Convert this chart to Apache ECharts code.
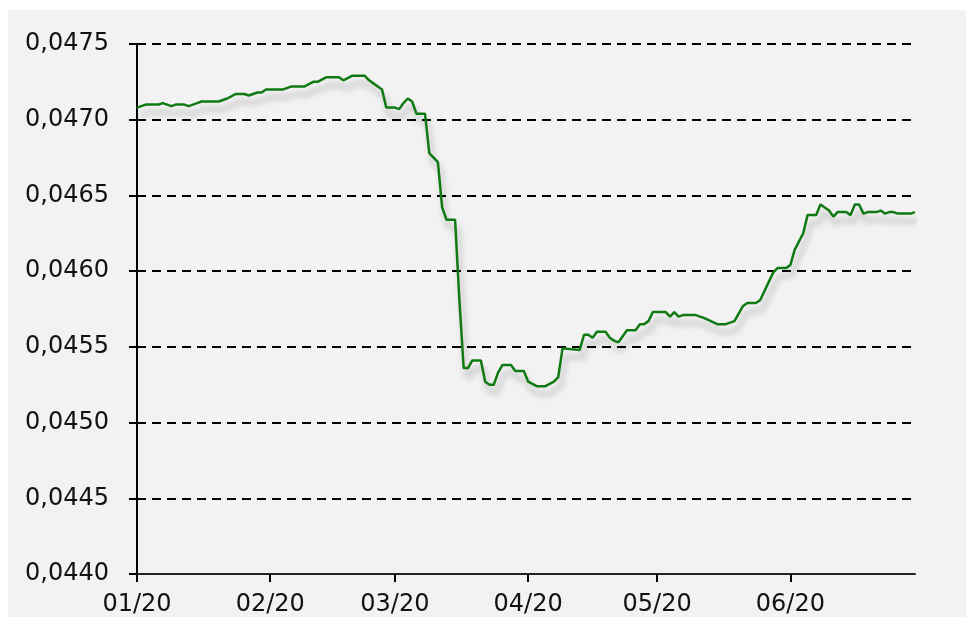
<!DOCTYPE html>
<html>
<head>
<meta charset="utf-8">
<script src="https://cdn.jsdelivr.net/npm/echarts@6/dist/echarts.min.js"></script>
<style>
  html, body { margin:0; padding:0; background:#fff; }
  #chart { position:absolute; left:8px; top:10px; width:958px; height:607px; background:#f2f2f2; }
</style>
</head>
<body>
<div id="chart"></div>
<script>
// dates / values
var dates = [
  '2020-01-01','2020-01-03','2020-01-06','2020-01-07','2020-01-09','2020-01-10','2020-01-12','2020-01-13',
  '2020-01-15','2020-01-16','2020-01-20','2020-01-22','2020-01-24','2020-01-26','2020-01-27','2020-01-29',
  '2020-01-30','2020-01-31','2020-02-04','2020-02-06','2020-02-09','2020-02-11','2020-02-12','2020-02-14',
  '2020-02-17','2020-02-18','2020-02-20','2020-02-23','2020-02-24','2020-02-25','2020-02-27','2020-02-28',
  '2020-03-01','2020-03-02','2020-03-03','2020-03-04','2020-03-05','2020-03-06','2020-03-08','2020-03-09',
  '2020-03-10','2020-03-11','2020-03-12','2020-03-13','2020-03-15','2020-03-16','2020-03-17','2020-03-18',
  '2020-03-19','2020-03-21','2020-03-22','2020-03-23','2020-03-24','2020-03-25','2020-03-26','2020-03-28',
  '2020-03-29','2020-03-31','2020-04-01','2020-04-03','2020-04-05','2020-04-07','2020-04-08','2020-04-09',
  '2020-04-13','2020-04-14','2020-04-15','2020-04-16','2020-04-17','2020-04-19','2020-04-20','2020-04-21',
  '2020-04-22','2020-04-24','2020-04-26','2020-04-27','2020-04-28','2020-04-29','2020-04-30','2020-05-03',
  '2020-05-04','2020-05-05','2020-05-06','2020-05-07','2020-05-10','2020-05-11','2020-05-12','2020-05-15',
  '2020-05-17','2020-05-19','2020-05-21','2020-05-22','2020-05-24','2020-05-25','2020-05-28','2020-05-29',
  '2020-05-31','2020-06-01','2020-06-02','2020-06-04','2020-06-05','2020-06-07','2020-06-08','2020-06-09',
  '2020-06-10','2020-06-11','2020-06-12','2020-06-14','2020-06-15','2020-06-16','2020-06-17','2020-06-18',
  '2020-06-19','2020-06-21','2020-06-22','2020-06-23','2020-06-24','2020-06-25','2020-06-26','2020-06-29',
  '2020-06-30'
];
var values = [
  0.04708,0.04710,0.04710,0.04711,0.04709,0.04710,0.04710,0.04709,
  0.04711,0.04712,0.04712,0.04714,0.04717,0.04717,0.04716,0.04718,
  0.04718,0.04720,0.04720,0.04722,0.04722,0.04725,0.04725,0.04728,
  0.04728,0.04726,0.04729,0.04729,0.04726,0.04724,0.04720,0.04708,
  0.04708,0.04707,0.04711,0.04714,0.04712,0.04704,0.04704,0.04678,
  0.04675,0.04672,0.04642,0.04634,0.04634,0.04581,0.04536,0.04536,
  0.04541,0.04541,0.04527,0.04525,0.04525,0.04533,0.04538,0.04538,
  0.04534,0.04534,0.04527,0.04524,0.04524,0.04527,0.04530,0.04549,
  0.04548,0.04558,0.04558,0.04556,0.04560,0.04560,0.04556,0.04554,
  0.04553,0.04561,0.04561,0.04565,0.04565,0.04567,0.04573,0.04573,
  0.04570,0.04573,0.04570,0.04571,0.04571,0.04570,0.04569,0.04565,
  0.04565,0.04567,0.04577,0.04579,0.04579,0.04581,0.04599,0.04602,
  0.04602,0.04604,0.04614,0.04625,0.04637,0.04637,0.04644,0.04642,
  0.04640,0.04636,0.04639,0.04639,0.04637,0.04644,0.04644,0.04638,
  0.04639,0.04639,0.04640,0.04638,0.04639,0.04639,0.04638,0.04638,
  0.04639
];
var monthTicks = ['2020-01-01','2020-02-01','2020-03-01','2020-04-01','2020-05-01','2020-06-01'];
var monthLabels = ['01/20','02/20','03/20','04/20','05/20','06/20'];
var startDate = '2020-01-01', endDate = '2020-06-30';
var yMin = 0.0440, yMax = 0.0475, yStep = 0.0005;

// day number since start date (x axis runs in days)
function dayNo(s){
  var p = s.split('-'), q = startDate.split('-');
  var a = Date.UTC(+p[0], +p[1]-1, +p[2]), b = Date.UTC(+q[0], +q[1]-1, +q[2]);
  return Math.round((a - b) / 86400000);
}

var seriesData = [];
for (var i = 0; i < dates.length; i++) {
  seriesData.push([dayNo(dates[i]), values[i]]);
}
var tickVals = monthTicks.map(dayNo);

var myChart = echarts.init(document.getElementById('chart'));
var option = {
  backgroundColor: '#f2f2f2',
  animation: false,
  grid: { left: 129, right: 51, top: 34, bottom: 42 },
  xAxis: {
    type: 'value',
    min: 0,
    max: dayNo(endDate),
    axisLine: { show: true, onZero: false, lineStyle: { color: '#222', width: 2 } },
    axisTick: { show: true, customValues: tickVals, length: 8, lineStyle: { color: '#000', width: 2 } },
    axisLabel: {
      customValues: tickVals,
      margin: 19,
      color: '#111',
      fontFamily: 'DejaVu Sans',
      fontSize: 24,
      formatter: function(v){
        var k = tickVals.indexOf(Math.round(v));
        return k >= 0 ? monthLabels[k] : '';
      }
    },
    splitLine: { show: false }
  },
  yAxis: {
    type: 'value',
    min: yMin,
    max: yMax,
    interval: yStep,
    axisLine: { show: true, lineStyle: { color: '#000', width: 2 } },
    axisTick: { show: true, length: 8, lineStyle: { color: '#000', width: 2 } },
    axisLabel: {
      margin: 28,
      color: '#111',
      fontFamily: 'DejaVu Sans',
      fontSize: 24,
      formatter: function(v){ return v.toFixed(4).replace('.', ','); }
    },
    splitLine: { show: true, lineStyle: { color: '#000', width: 2, type: [9, 6] } }
  },
  series: [{
    type: 'line',
    data: seriesData,
    showSymbol: false,
    symbol: 'none',
    lineStyle: {
      color: '#0f7a12',
      width: 2.5,
      shadowColor: 'rgba(0,0,0,0.28)',
      shadowBlur: 6,
      shadowOffsetX: 3,
      shadowOffsetY: 8
    }
  }]
};
myChart.setOption(option);
</script>
</body>
</html>
